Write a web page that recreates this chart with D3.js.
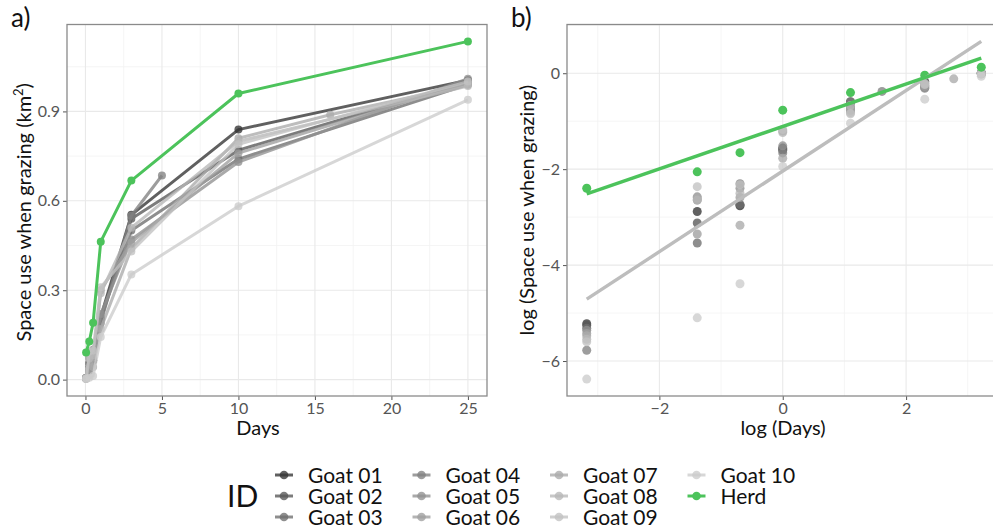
<!DOCTYPE html>
<html>
<head>
<meta charset="utf-8">
<script src="https://cdn.jsdelivr.net/npm/d3@7"></script>
<style>
  html, body { margin: 0; padding: 0; background: #fff; }
  svg { display: block; font-family: Lato, "Open Sans", sans-serif; }
</style>
</head>
<body>
<script>
// Sampling times in days (1 h, 6 h, 12 h, 1 d, 3 d, 5 d, 10 d, 16 d, 25 d)
const sampleDays = [1 / 24, 0.25, 0.5, 1, 3, 5, 10, 16, 25];

// Space use when grazing (km²) per individual; null = not sampled
const goat01 = [0.0054, 0.056, 0.063, 0.21, 0.553, null, 0.839, null, 1.005];
const goat02 = [0.0052, 0.044, 0.064, 0.20, 0.54, null, 0.77, null, 1.00];
const goat03 = [0.0049, 0.029, 0.065, 0.205, 0.50, null, 0.74, null, 0.99];
const goat04 = [0.0031, 0.071, 0.10, 0.19, 0.55, 0.685, null, null, null];
const goat05 = [0.0047, 0.076, 0.091, 0.22, 0.47, null, 0.73, null, 1.01];
const goat06 = [0.0044, 0.035, 0.075, 0.30, 0.46, null, 0.76, null, 0.995];
const goat07 = [0.0042, 0.074, 0.042, 0.17, 0.44, null, 0.81, 0.889, 0.99];
const goat08 = [0.0039, 0.071, 0.082, 0.29, 0.51, null, 0.80, null, 0.985];
const goat09 = [0.0037, 0.094, 0.098, 0.31, 0.43, null, 0.79, null, 1.00];
const goat10 = [0.0017, 0.0061, 0.0124, 0.143, 0.353, null, 0.582, null, 0.939];
const herd   = [0.091, 0.128, 0.191, 0.463, 0.668, null, 0.960, null, 1.135];

const seriesIds = ["Goat 01", "Goat 02", "Goat 03", "Goat 04", "Goat 05",
                   "Goat 06", "Goat 07", "Goat 08", "Goat 09", "Goat 10", "Herd"];
const seriesValues = [goat01, goat02, goat03, goat04, goat05,
                      goat06, goat07, goat08, goat09, goat10, herd];

// Linear fits on the log-log scale: [intercept, slope]
const fitGoats = [-2.04, 0.84];
const fitHerd = [-1.11, 0.442];

// Tick values
const ticksDaysA = [0, 5, 10, 15, 20, 25];
const ticksSpaceA = [0, 0.3, 0.6, 0.9];
const ticksDaysB = [-2, 0, 2];
const ticksSpaceB = [-6, -4, -2, 0];

// ---- colours: grey ramp for goats (gamma-corrected, 0.2 -> 0.8), green herd
function greyRamp(n, start, end) {
  const g = 2.2, a = Math.pow(start, g), b = Math.pow(end, g);
  return d3.range(n).map(i => {
    const v = Math.round(255 * Math.pow(a + (b - a) * i / (n - 1), 1 / g));
    return d3.rgb(v, v, v).formatHex();
  });
}
const colours = greyRamp(10, 0.2, 0.8).concat(["#4cc35b"]);
const colourOf = d3.scaleOrdinal(seriesIds, colours);
const goatAlpha = 0.78;

// Tidy records
const series = seriesIds.map((id, k) => ({
  id,
  points: sampleDays.map((d, i) => ({ day: d, value: seriesValues[k][i] }))
                    .filter(p => p.value !== null)
}));
const goatSeries = series.filter(s => s.id !== "Herd");
const herdSeries = series.find(s => s.id === "Herd");

const W = 993, H = 530;
const svg = d3.select("body").append("svg").attr("width", W).attr("height", H);

function expand(ext, f = 0.05) {
  const s = ext[1] - ext[0];
  return [ext[0] - f * s, ext[1] + f * s];
}
const allPts = series.flatMap(s => s.points);

// ---- panel geometry
const A = { left: 67, right: 487, top: 24.5, bottom: 396 };
const B = { left: 567, right: 1001, top: 24.5, bottom: 396 };

// ---- scales, panel a (linear)
const xA = d3.scaleLinear().domain(expand(d3.extent(allPts, p => p.day))).range([A.left, A.right]);
const yA = d3.scaleLinear().domain(expand(d3.extent(allPts, p => p.value))).range([A.bottom, A.top]);

// ---- scales, panel b (natural logs)
const logX = d3.extent(allPts, p => Math.log(p.day));
const fitEnds = [fitGoats, fitHerd].flatMap(f => logX.map(x => f[0] + f[1] * x));
const logYext = d3.extent(allPts.map(p => Math.log(p.value)).concat(fitEnds));
const xB = d3.scaleLinear().domain(expand(logX)).range([B.left, B.right]);
const yB = d3.scaleLinear().domain(expand(logYext)).range([B.bottom, B.top]);

svg.append("clipPath").attr("id", "clipA").append("rect")
  .attr("x", A.left).attr("y", A.top).attr("width", A.right - A.left).attr("height", A.bottom - A.top);
svg.append("clipPath").attr("id", "clipB").append("rect")
  .attr("x", B.left).attr("y", B.top).attr("width", B.right - B.left).attr("height", B.bottom - B.top);

function minorBetween(ticks, domain) {
  const step = ticks[1] - ticks[0];
  const out = [];
  for (let t = ticks[0] - step; t <= ticks[ticks.length - 1] + step + 1e-9; t += step) {
    const m = t + step / 2;
    if (m >= domain[0] && m <= domain[1]) out.push(m);
  }
  return out;
}

function drawGrid(P, x, y, xt, yt, clip) {
  const g = svg.append("g").attr("clip-path", `url(#${clip})`);
  const xm = minorBetween(xt, x.domain()), ym = minorBetween(yt, y.domain());
  g.selectAll(".vxm").data(xm).join("line")
    .attr("x1", d => x(d)).attr("x2", d => x(d)).attr("y1", P.top).attr("y2", P.bottom)
    .attr("stroke", "#f3f3f3").attr("stroke-width", 0.8);
  g.selectAll(".hym").data(ym).join("line")
    .attr("y1", d => y(d)).attr("y2", d => y(d)).attr("x1", P.left).attr("x2", P.right)
    .attr("stroke", "#f3f3f3").attr("stroke-width", 0.8);
  g.selectAll(".vx").data(xt).join("line")
    .attr("x1", d => x(d)).attr("x2", d => x(d)).attr("y1", P.top).attr("y2", P.bottom)
    .attr("stroke", "#e9e9e9").attr("stroke-width", 1.1);
  g.selectAll(".hy").data(yt).join("line")
    .attr("y1", d => y(d)).attr("y2", d => y(d)).attr("x1", P.left).attr("x2", P.right)
    .attr("stroke", "#e9e9e9").attr("stroke-width", 1.1);
}

function drawAxes(P, x, y, xt, yt, yFmt) {
  const ax = svg.append("g").attr("transform", `translate(0,${P.bottom})`)
    .call(d3.axisBottom(x).tickValues(xt).tickSize(4).tickPadding(2).tickFormat(d3.format("d")));
  const ay = svg.append("g").attr("transform", `translate(${P.left},0)`)
    .call(d3.axisLeft(y).tickValues(yt).tickSize(4).tickPadding(3).tickFormat(yFmt));
  [ax, ay].forEach(a => {
    a.select(".domain").remove();
    a.selectAll(".tick line").attr("stroke", "#555").attr("stroke-width", 1);
    a.selectAll(".tick text").attr("fill", "#555").style("font-size", "16px")
      .style("font-family", "Lato, 'Open Sans', sans-serif");
  });
  ax.selectAll(".tick text").attr("dy", "0.78em");
  svg.append("rect").attr("x", P.left).attr("y", P.top)
    .attr("width", P.right - P.left).attr("height", P.bottom - P.top)
    .attr("fill", "none").attr("stroke", "#8a8a8a").attr("stroke-width", 1.3);
}

// ---- panel a
drawGrid(A, xA, yA, ticksDaysA, ticksSpaceA, "clipA");
const gA = svg.append("g").attr("clip-path", "url(#clipA)");
const lineA = d3.line().x(p => xA(p.day)).y(p => yA(p.value));
gA.selectAll(".s").data(series).join("g").each(function (s) {
  const g = d3.select(this);
  const isHerd = s.id === "Herd";
  g.append("path").attr("d", lineA(s.points)).attr("fill", "none")
    .attr("stroke", colourOf(s.id)).attr("stroke-width", 3)
    .attr("stroke-linejoin", "round").attr("stroke-opacity", isHerd ? 1 : goatAlpha);
  g.selectAll("circle").data(s.points).join("circle")
    .attr("cx", p => xA(p.day)).attr("cy", p => yA(p.value)).attr("r", 4)
    .attr("fill", colourOf(s.id)).attr("fill-opacity", isHerd ? 1 : goatAlpha);
});
drawAxes(A, xA, yA, ticksDaysA, ticksSpaceA, d3.format(".1f"));

// ---- panel b
drawGrid(B, xB, yB, ticksDaysB, ticksSpaceB, "clipB");
const gB = svg.append("g").attr("clip-path", "url(#clipB)");
series.forEach(s => {
  const isHerd = s.id === "Herd";
  gB.append("g").selectAll("circle").data(s.points).join("circle")
    .attr("cx", p => xB(Math.log(p.day))).attr("cy", p => yB(Math.log(p.value))).attr("r", 4.5)
    .attr("fill", colourOf(s.id)).attr("fill-opacity", isHerd ? 1 : goatAlpha);
});
const fits = [
  { f: fitGoats, colour: "#bdbdbd", pts: goatSeries.flatMap(s => s.points) },
  { f: fitHerd, colour: colourOf("Herd"), pts: herdSeries.points }
];
fits.forEach(({ f, colour, pts }) => {
  const ex = d3.extent(pts, p => Math.log(p.day));
  gB.append("line")
    .attr("x1", xB(ex[0])).attr("y1", yB(f[0] + f[1] * ex[0]))
    .attr("x2", xB(ex[1])).attr("y2", yB(f[0] + f[1] * ex[1]))
    .attr("stroke", colour).attr("stroke-width", 3.4);
});
drawAxes(B, xB, yB, ticksDaysB, ticksSpaceB, d3.format("d"));

// ---- titles
const txt = (x, y, s, size, opts = {}) => svg.append("text")
  .attr("x", x).attr("y", y).text(s).style("font-size", size + "px")
  .attr("fill", opts.fill || "#111").attr("text-anchor", opts.anchor || "middle")
  .attr("transform", opts.rotate ? `rotate(-90,${x},${y})` : null);

txt(258, 435, "Days", 20);
txt((B.left + B.right) / 2 - 1, 435, "log (Days)", 20);
const yTitleA = txt(31, (A.top + A.bottom) / 2 + 2, "", 20, { rotate: true });
yTitleA.append("tspan").text("Space use when grazing (km");
yTitleA.append("tspan").text("2").attr("dy", -8).style("font-size", "13px");
yTitleA.append("tspan").text(")").attr("dy", 8);
txt(534, (B.top + B.bottom) / 2, "log (Space use when grazing)", 20, { rotate: true });
txt(11, 27, "a)", 26, { anchor: "start" });
txt(511, 27, "b)", 26, { anchor: "start" });

// ---- legend (filled by column, 3 rows)
txt(227, 507, "ID", 30, { anchor: "start" });
const legend = svg.append("g");
seriesIds.forEach((id, i) => {
  const col = Math.floor(i / 3), row = i % 3;
  const cx = 284 + col * 137.5, cy = 475 + row * 21;
  const isHerd = id === "Herd";
  legend.append("line").attr("x1", cx - 9).attr("x2", cx + 9).attr("y1", cy).attr("y2", cy)
    .attr("stroke", colourOf(id)).attr("stroke-width", 3).attr("stroke-opacity", isHerd ? 1 : goatAlpha);
  legend.append("circle").attr("cx", cx).attr("cy", cy).attr("r", 4.3)
    .attr("fill", colourOf(id)).attr("fill-opacity", isHerd ? 1 : goatAlpha);
  legend.append("text").attr("x", cx + 24).attr("y", cy).attr("dy", "0.36em")
    .text(id).style("font-size", "21px").attr("fill", "#111");
});
</script>
</body>
</html>
